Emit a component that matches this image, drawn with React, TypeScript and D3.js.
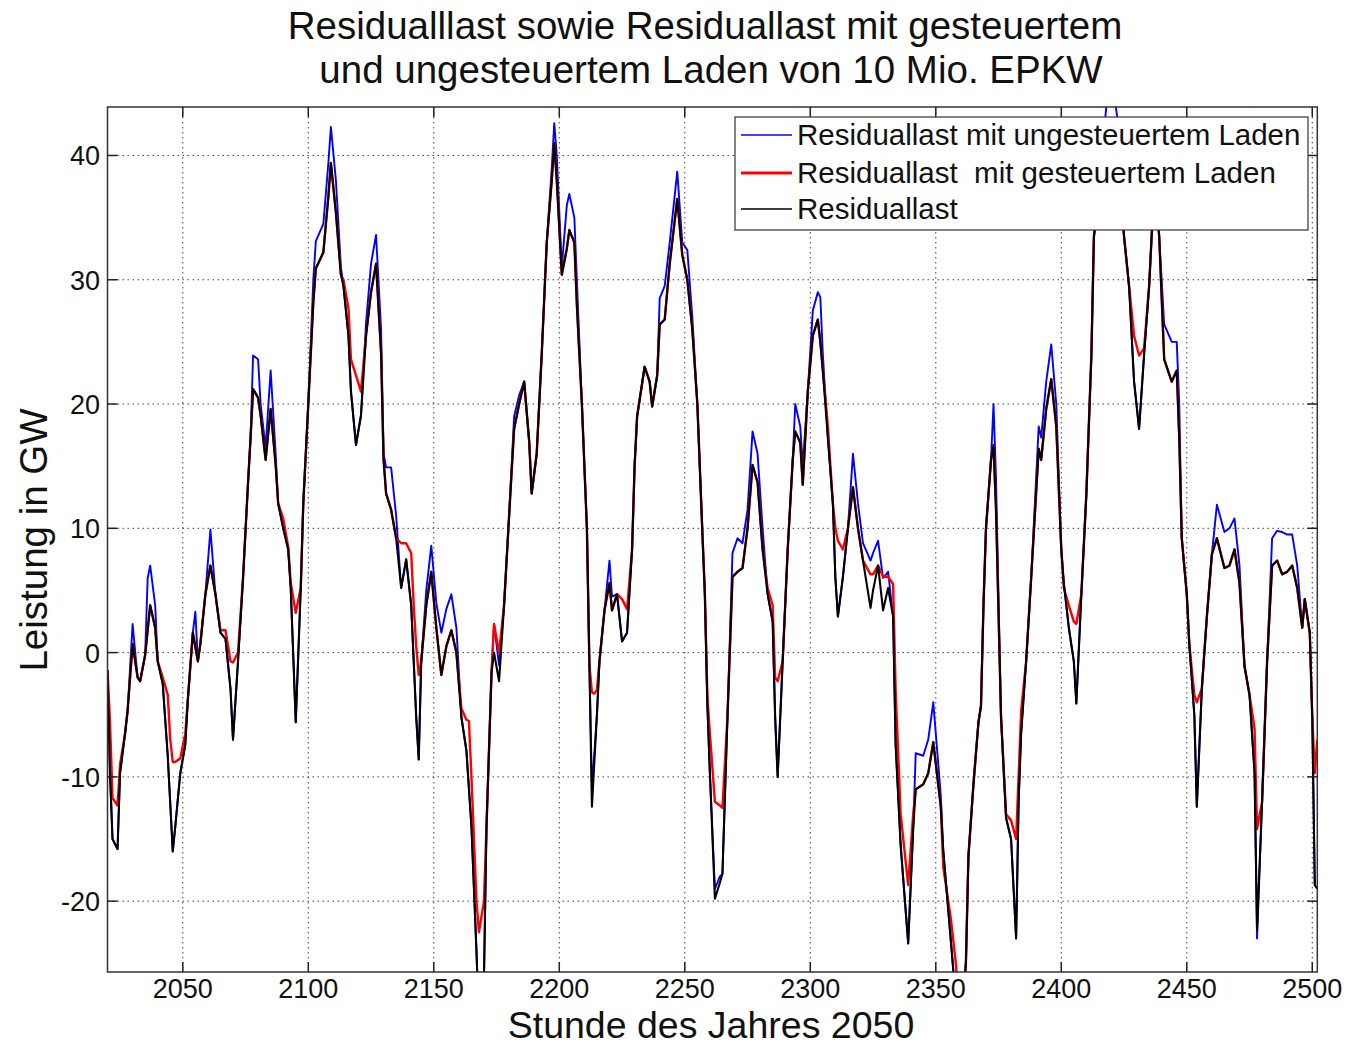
import React from "react";
import * as d3 from "d3";

// Residuallast (hour of year, GW)
const residual: [number, number][] = [
  [2020, -1.4], [2021, -9.7], [2022, -15], [2024, -15.8], [2025, -9.7], [2027, -6.5], [2028, -4.7],
  [2030, 0.7], [2032, -2], [2033, -2.3], [2035, -0.2], [2037, 3.8], [2039, 2], [2040, -0.7],
  [2042, -2.5], [2044, -8.3], [2046, -16], [2047, -14], [2049, -9.7], [2051, -7.4], [2052, -3.8],
  [2054, 1.6], [2056, -0.7], [2057, 0.7], [2059, 4.7], [2061, 7], [2063, 4.7], [2065, 1.6],
  [2067, 1.1], [2069, -2.9], [2070, -7], [2072, -0.7], [2074, 6], [2076, 13.7], [2077, 17.3],
  [2078, 21.2], [2080, 20.5], [2081, 19.1], [2083, 15.5], [2085, 19.6], [2087, 15.1], [2088, 12],
  [2090, 10], [2092, 8.3], [2093, 5.2], [2095, -5.6], [2097, 5.2], [2098, 12], [2100, 20],
  [2102, 28.2], [2103, 30.9], [2106, 32.2], [2108, 36.7], [2109, 39.4], [2111, 35.4], [2113, 30.4],
  [2114, 29.5], [2116, 25.5], [2117, 21], [2119, 16.7], [2121, 19.1], [2123, 25.5], [2125, 29],
  [2127, 31.3], [2129, 24.1], [2130, 15.5], [2131, 12.8], [2133, 11.5], [2135, 9.2], [2137, 5.2],
  [2139, 7.5], [2141, 3.8], [2143, -5.2], [2144, -8.6], [2145, -0.7], [2147, 3.8], [2149, 6.5],
  [2151, 2], [2153, -1.8], [2155, 0.5], [2157, 1.8], [2159, 0], [2161, -5.2], [2163, -7.9],
  [2165, -14], [2167, -24], [2168, -30], [2170, -26], [2171, -14], [2173, -1.6], [2174, 0],
  [2176, -2.3], [2178, 3.8], [2180, 11], [2182, 18], [2184, 20], [2186, 21.8], [2188, 17],
  [2189, 12.8], [2191, 16], [2193, 24], [2195, 33], [2197, 38], [2198, 41], [2199, 38],
  [2201, 30.4], [2203, 32.5], [2204, 34], [2206, 33], [2207, 28], [2209, 20], [2211, 10],
  [2212, -1], [2213, -12.4], [2215, -5], [2216, -0.7], [2218, 3.4], [2220, 5.6], [2221, 3.4],
  [2223, 4.7], [2225, 0.9], [2227, 1.6], [2229, 8.3], [2230, 15], [2231, 19], [2234, 23],
  [2236, 21.8], [2237, 19.8], [2239, 22.3], [2240, 26.4], [2242, 26.8], [2244, 31.3], [2247, 36.5],
  [2249, 32], [2251, 30], [2253, 26], [2255, 20], [2257, 9.7], [2258, 4.7], [2259, -4.3],
  [2260, -9.7], [2262, -19.8], [2264, -18.5], [2265, -17.8], [2267, -5.2], [2269, 6.1], [2271, 6.5],
  [2273, 6.8], [2275, 10], [2277, 15.1], [2279, 13.7], [2281, 8.3], [2283, 4.7], [2285, 2.5],
  [2286, -5.2], [2287, -10], [2289, -0.7], [2291, 8.3], [2293, 15.5], [2294, 17.8], [2296, 16.9],
  [2297, 13.5], [2299, 21], [2301, 25.5], [2303, 26.8], [2304, 25], [2305, 22.7], [2307, 17.3],
  [2309, 12], [2310, 6], [2311, 2.9], [2313, 6.1], [2315, 10], [2317, 13.3], [2319, 10],
  [2321, 7.4], [2324, 3.6], [2325, 5], [2327, 7], [2329, 3.4], [2331, 5.2], [2333, 2.9],
  [2334, -7.4], [2336, -15.5], [2339, -23.4], [2341, -14.2], [2342, -11], [2345, -10.6], [2347, -9.7],
  [2349, -7.2], [2352, -12.4], [2353, -16], [2356, -23.2], [2358, -28], [2360, -30], [2362, -25],
  [2363, -16.4], [2365, -10.6], [2367, -5.6], [2368, -4.3], [2369, 3.8], [2370, 10], [2372, 15.5],
  [2373, 16.7], [2374, 11.5], [2376, -5.2], [2378, -13.3], [2380, -15], [2382, -23], [2383, -12],
  [2384, -6.5], [2386, -0.7], [2388, 6], [2391, 16.4], [2392, 15.5], [2394, 19.6], [2396, 22],
  [2398, 18.2], [2400, 8.3], [2401, 5.6], [2403, 2], [2405, -0.7], [2406, -4.1], [2408, 4.7],
  [2410, 12.8], [2412, 24], [2413, 33.5], [2416, 38], [2419, 42], [2421, 41], [2423, 39],
  [2425, 33.5], [2427, 29.5], [2429, 21.8], [2431, 18], [2433, 24], [2435, 29.5], [2436, 33.5],
  [2437, 37], [2438, 36], [2439, 33.5], [2441, 23.6], [2444, 21.8], [2446, 22.7], [2447, 17.3],
  [2448, 9.2], [2450, 4.7], [2451, 0.7], [2453, -5], [2454, -12.4], [2456, -2.9], [2458, 2.9],
  [2460, 7.9], [2462, 9.2], [2465, 6.8], [2467, 7], [2469, 8.3], [2471, 5.6], [2473, -1.1],
  [2475, -3.4], [2477, -9.7], [2478, -22.3], [2480, -12], [2482, -0.7], [2484, 7], [2486, 7.4],
  [2488, 6.3], [2490, 6.5], [2492, 7], [2494, 5.2], [2496, 2], [2497, 4.3], [2499, 1.6],
  [2500, -5.2], [2501, -18.7], [2502, -19],
];

// Hours where the load with uncontrolled charging departs from the residual load
const ungesteuertAbweichung: [number, number][] = [
  [2030, 2.3], [2036, 6], [2037, 7], [2039, 3.8], [2055, 3.3], [2061, 9.9],
  [2078, 23.9], [2080, 23.6], [2081, 20], [2083, 16.5], [2085, 22.7], [2087, 16],
  [2102, 30], [2103, 33.1], [2106, 34.5], [2108, 39.4], [2109, 42.3], [2111, 38], [2113, 31],
  [2123, 26.5], [2125, 31.3], [2127, 33.6], [2129, 26], [2130, 16], [2131, 14.9], [2133, 14.9], [2135, 11],
  [2147, 5], [2149, 8.6], [2151, 4], [2153, 1.6], [2155, 3.5], [2157, 4.7], [2159, 2],
  [2174, 2.3], [2176, -1], [2182, 19], [2184, 20.7],
  [2197, 39], [2198, 42.6], [2199, 40], [2201, 31], [2203, 36], [2204, 36.9], [2206, 35], [2207, 30],
  [2213, -11], [2220, 7.4], [2221, 4.5],
  [2240, 28.5], [2242, 29.5], [2244, 33], [2247, 38.7], [2249, 33], [2251, 32.4], [2253, 27],
  [2262, -19], [2264, -18],
  [2269, 8], [2271, 9.2], [2273, 8.8], [2275, 11.5], [2277, 17.8], [2279, 16], [2281, 10],
  [2294, 20], [2296, 18.2], [2297, 15], [2301, 27.5], [2303, 29], [2304, 28.6], [2305, 24],
  [2317, 16], [2319, 12], [2321, 8.8], [2324, 7.4], [2325, 8], [2327, 9], [2329, 6], [2331, 6.5],
  [2342, -8.1], [2345, -8.3], [2347, -7], [2349, -4], [2352, -11.5],
  [2373, 20], [2374, 14],
  [2391, 18.2], [2392, 17.3], [2394, 21.8], [2396, 24.8], [2398, 20],
  [2416, 40], [2419, 46], [2421, 45], [2423, 42], [2437, 40], [2438, 39],
  [2441, 26.4], [2444, 25], [2446, 25], [2447, 20],
  [2462, 11.9], [2465, 9.7], [2467, 10], [2469, 10.8], [2471, 7], [2478, -23],
  [2484, 9.2], [2486, 9.8], [2488, 9.7], [2490, 9.5], [2492, 9.5], [2494, 7],
];

// Hours where the load with controlled charging departs from the residual load
const gesteuertAbweichung: [number, number][] = [
  [2021, -5.6], [2022, -11.7], [2024, -12.3], [2025, -9],
  [2042, -2], [2044, -3.4], [2045, -7], [2046, -8.8], [2047, -8.8], [2049, -8.5], [2051, -6.5],
  [2065, 1.8], [2067, 1.8], [2069, -0.7], [2070, -0.8], [2072, 0],
  [2090, 10.8], [2092, 8.5], [2093, 5.6], [2095, 3.2],
  [2113, 30.4], [2114, 30], [2116, 27.7], [2117, 23.6], [2119, 22.3], [2121, 21],
  [2137, 8.8], [2139, 8.8], [2141, 8], [2142, 3.8], [2143, 0.5], [2144, -1.8],
  [2161, -4.5], [2163, -5.4], [2164, -5.5], [2165, -10], [2167, -20], [2168, -22.5], [2170, -20],
  [2174, 2.3], [2176, 0],
  [2212, -1], [2213, -3.2], [2214, -3.3], [2215, -3],
  [2225, 4.3], [2227, 3.5],
  [2259, -3.5], [2260, -6.5], [2262, -12], [2264, -12.3], [2265, -12.5],
  [2283, 5.2], [2285, 3.8], [2286, -2], [2287, -2.3],
  [2307, 18.2], [2310, 10], [2311, 9], [2313, 8.3],
  [2324, 6.3], [2325, 6.3], [2329, 6.1], [2331, 6.1], [2333, 5.5], [2334, -3],
  [2336, -13], [2339, -18.7], [2341, -13],
  [2353, -17.3], [2356, -21.4], [2358, -25],
  [2376, -5.2], [2378, -13], [2380, -13.5], [2382, -15], [2383, -10], [2384, -4.7],
  [2401, 5.2], [2403, 3.8], [2405, 2.5], [2406, 2.3],
  [2429, 25.5], [2431, 23.9], [2433, 24.5],
  [2453, -3.4], [2454, -4], [2456, -2.9],
  [2477, -6.1], [2478, -14.2],
  [2501, -9.7], [2502, -7],
];

const xTicks = [2050, 2100, 2150, 2200, 2250, 2300, 2350, 2400, 2450, 2500];
const yTicks = [-20, -10, 0, 10, 20, 30, 40];

const titleLines = [
  "Residualllast sowie Residuallast mit gesteuertem",
  "und ungesteuertem Laden von 10 Mio. EPKW",
];
const xLabel = "Stunde des Jahres 2050";
const yLabel = "Leistung in GW";
const legendLabels = [
  "Residuallast mit ungesteuertem Laden",
  "Residuallast  mit gesteuertem Laden",
  "Residuallast",
];

function withDeviations(base: [number, number][], dev: [number, number][]) {
  const m = new Map<number, number>(base);
  dev.forEach(([h, v]) => m.set(h, v));
  return Array.from(m.entries()).sort((a, b) => a[0] - b[0]);
}

const FONT = "'Liberation Sans', Arial, Helvetica, sans-serif";

export default function App() {
  const left = 107.5, right = 1317.3, top = 107, bottom = 972;
  const x = d3.scaleLinear().domain([2020, 2502]).range([left, right]);
  const y = d3.scaleLinear().domain([-25.7, 43.9]).range([bottom, top]);

  const line = d3
    .line<[number, number]>()
    .x((d) => x(d[0]))
    .y((d) => y(d[1]));

  const blueSeries = withDeviations(residual, ungesteuertAbweichung);
  const redSeries = withDeviations(residual, gesteuertAbweichung);

  const tickLen = 10;
  const gridStyle = { stroke: "#444", strokeWidth: 1, strokeDasharray: "1.5 3.5" };

  const legend = { x0: 735, y0: 117, x1: 1308, y1: 230 };
  const legendRows = [
    { color: "#0000ff", width: 1.6, y: 135 },
    { color: "#ff0000", width: 3.2, y: 173 },
    { color: "#000000", width: 1.6, y: 209 },
  ];

  return (
    <svg
      width={1348}
      height={1047}
      style={{ position: "absolute", left: 0, top: 0, background: "#fff" }}
      fontFamily={FONT}
    >
      <rect x={0} y={0} width={1348} height={1047} fill="#fff" />
      <defs>
        <clipPath id="plotClip">
          <rect x={left} y={top} width={right - left} height={bottom - top} />
        </clipPath>
      </defs>

      {/* grid */}
      {xTicks.map((t) => (
        <line key={"gx" + t} x1={x(t)} x2={x(t)} y1={top} y2={bottom} {...gridStyle} />
      ))}
      {yTicks.map((t) => (
        <line key={"gy" + t} x1={left} x2={right} y1={y(t)} y2={y(t)} {...gridStyle} />
      ))}

      {/* series */}
      <g clipPath="url(#plotClip)" fill="none" strokeLinejoin="round">
        <path d={line(blueSeries) || ""} stroke="#0000ff" strokeWidth={1.9} />
        <path d={line(redSeries) || ""} stroke="#ff0000" strokeWidth={2.4} />
        <path d={line(residual) || ""} stroke="#000" strokeWidth={2.1} />
      </g>

      {/* box and ticks */}
      <rect x={left} y={top} width={right - left} height={bottom - top} fill="none" stroke="#333" strokeWidth={1.5} />
      {xTicks.map((t) => (
        <g key={"tx" + t}>
          <line x1={x(t)} x2={x(t)} y1={bottom} y2={bottom - tickLen} stroke="#222" strokeWidth={1.5} />
          <line x1={x(t)} x2={x(t)} y1={top} y2={top + tickLen} stroke="#222" strokeWidth={1.5} />
          <text x={x(t)} y={998} textAnchor="middle" fontSize={27} fill="#111">
            {t}
          </text>
        </g>
      ))}
      {yTicks.map((t) => (
        <g key={"ty" + t}>
          <line x1={left} x2={left + tickLen} y1={y(t)} y2={y(t)} stroke="#222" strokeWidth={1.5} />
          <line x1={right} x2={right - tickLen} y1={y(t)} y2={y(t)} stroke="#222" strokeWidth={1.5} />
          <text x={100} y={y(t) + 10} textAnchor="end" fontSize={27} fill="#111">
            {t}
          </text>
        </g>
      ))}

      {/* legend */}
      <rect
        x={legend.x0}
        y={legend.y0}
        width={legend.x1 - legend.x0}
        height={legend.y1 - legend.y0}
        fill="#fff"
        stroke="#333"
        strokeWidth={1.2}
      />
      {legendRows.map((r, i) => (
        <g key={"lg" + i}>
          <line x1={741} x2={792} y1={r.y} y2={r.y} stroke={r.color} strokeWidth={r.width} />
          <text x={797} y={r.y + 10} fontSize={29.5} fill="#111" style={{ whiteSpace: "pre" }}>
            {legendLabels[i]}
          </text>
        </g>
      ))}

      {/* title and axis labels */}
      <text x={705} y={39} textAnchor="middle" fontSize={38.5} fill="#111">
        {titleLines[0]}
      </text>
      <text x={711} y={83} textAnchor="middle" fontSize={38.5} fill="#111">
        {titleLines[1]}
      </text>
      <text x={711} y={1038} textAnchor="middle" fontSize={37.5} fill="#111">
        {xLabel}
      </text>
      <text
        transform="translate(47,540) rotate(-90)"
        textAnchor="middle"
        fontSize={38.5}
        fill="#111"
      >
        {yLabel}
      </text>
    </svg>
  );
}
